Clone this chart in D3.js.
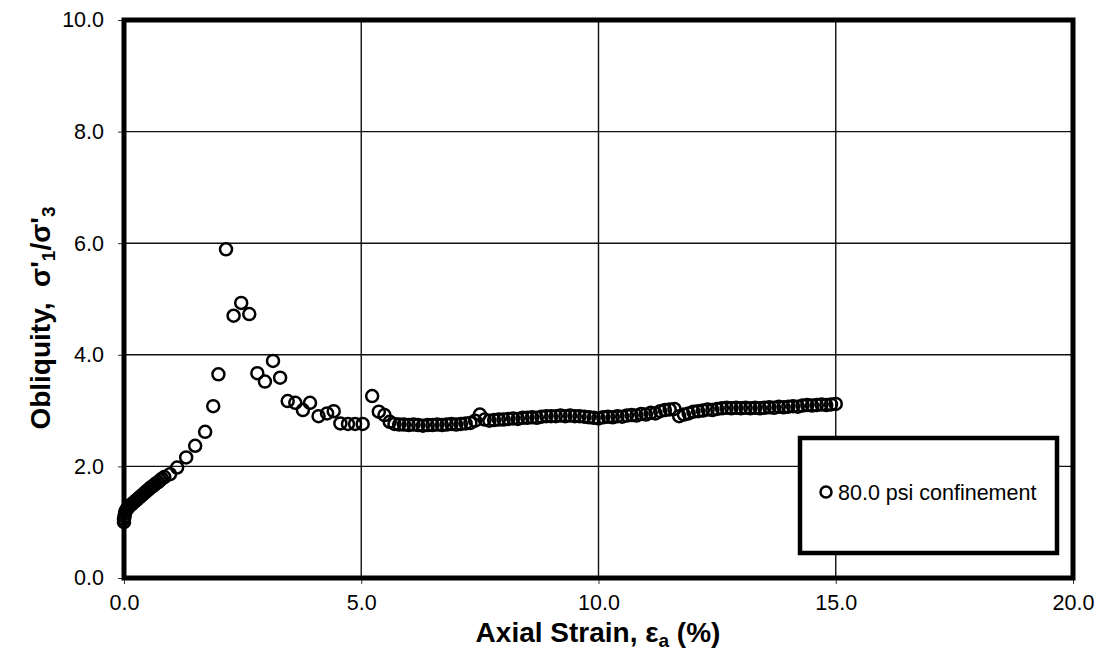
<!DOCTYPE html>
<html>
<head>
<meta charset="utf-8">
<script src="https://cdn.jsdelivr.net/npm/d3@7"></script>
<style>
body { margin: 0; background: #fff; }
svg { font-family: "Liberation Sans", Arial, sans-serif; }
</style>
</head>
<body>
<svg id="main"></svg>
<script>
// strain (%) and obliquity
var strain = [
	0.00, 0.00, 0.01, 0.02, 0.03, 0.05, 0.07, 0.10, 0.13, 0.16, 0.20, 0.24, 0.28, 0.32,
	0.36, 0.40, 0.44, 0.48, 0.52, 0.56, 0.60, 0.64, 0.68, 0.72, 0.76, 0.80, 0.85,
	0.97, 1.12, 1.31, 1.50, 1.71, 1.88, 1.99, 2.15, 2.31, 2.47, 2.64, 2.81, 2.97, 3.14,
	3.29, 3.45, 3.61, 3.77, 3.92, 4.10, 4.28, 4.42, 4.56, 4.72, 4.87, 5.03, 5.23, 5.37, 5.49,
	5.6, 5.7, 5.8, 5.9, 6.0, 6.1, 6.2, 6.3, 6.4, 6.5, 6.6, 6.7, 6.8, 6.9, 7.0, 7.1, 7.2, 7.3,
	7.4, 7.5, 7.6, 7.7, 7.8, 7.9, 8.0, 8.1, 8.2, 8.3, 8.4, 8.5, 8.6, 8.7, 8.8, 8.9, 9.0, 9.1,
	9.2, 9.3, 9.4, 9.5, 9.6, 9.7, 9.8, 9.9, 10.0, 10.1, 10.2, 10.3, 10.4, 10.5, 10.6, 10.7,
	10.8, 10.9, 11.0, 11.1, 11.2, 11.3, 11.4, 11.5, 11.6, 11.7, 11.8, 11.9, 12.0, 12.1, 12.2,
	12.3, 12.4, 12.5, 12.6, 12.7, 12.8, 12.9, 13.0, 13.1, 13.2, 13.3, 13.4, 13.5, 13.6, 13.7,
	13.8, 13.9, 14.0, 14.1, 14.2, 14.3, 14.4, 14.5, 14.6, 14.7, 14.8, 14.9, 15.0
];
var obliquity = [
	1.00, 1.05, 1.10, 1.15, 1.19, 1.22, 1.25, 1.27, 1.30, 1.32, 1.35, 1.38, 1.41, 1.44,
	1.47, 1.50, 1.53, 1.56, 1.59, 1.62, 1.64, 1.67, 1.70, 1.72, 1.75, 1.78, 1.81,
	1.86, 1.98, 2.16, 2.37, 2.62, 3.08, 3.65, 5.89, 4.70, 4.93, 4.73, 3.67, 3.52, 3.89,
	3.59, 3.17, 3.14, 3.01, 3.14, 2.90, 2.95, 2.99, 2.77, 2.76, 2.76, 2.76, 3.26, 2.98, 2.92,
	2.80, 2.76, 2.75, 2.75, 2.74, 2.75, 2.74, 2.73, 2.74, 2.74, 2.75, 2.74, 2.75, 2.76, 2.75, 2.76, 2.77, 2.78,
	2.82, 2.93, 2.84, 2.82, 2.83, 2.84, 2.84, 2.85, 2.86, 2.85, 2.87, 2.87, 2.88, 2.87, 2.89, 2.90, 2.90, 2.90,
	2.91, 2.90, 2.91, 2.90, 2.90, 2.89, 2.88, 2.87, 2.86, 2.88, 2.89, 2.88, 2.90, 2.89, 2.91, 2.92,
	2.91, 2.94, 2.93, 2.96, 2.95, 2.99, 3.01, 3.02, 3.03, 2.90, 2.93, 2.95, 2.98, 2.99, 3.00,
	3.02, 3.01, 3.03, 3.04, 3.05, 3.04, 3.05, 3.04, 3.05, 3.04, 3.05, 3.04, 3.05, 3.06, 3.05,
	3.07, 3.06, 3.07, 3.08, 3.07, 3.09, 3.10, 3.09, 3.10, 3.11, 3.10, 3.11, 3.12
];
var xTicks = [0, 5, 10, 15, 20];
var yTicks = [0, 2, 4, 6, 8, 10];
var seriesName = '80.0 psi confinement';

var width = 1098, height = 654;
var margin = {left: 124, top: 20, right: 25, bottom: 76};
var svg = d3.select('#main').attr('width', width).attr('height', height);

var x = d3.scaleLinear().domain([0, 20]).range([margin.left, width - margin.right]);
var y = d3.scaleLinear().domain([0, 10]).range([height - margin.bottom, margin.top]);

// grid
svg.append('g')
	.selectAll('line.h').data(yTicks.slice(1, -1)).join('line')
	.attr('x1', x(0)).attr('x2', x(20))
	.attr('y1', d => y(d)).attr('y2', d => y(d))
	.attr('stroke', '#111').attr('stroke-width', 1.4);
svg.append('g')
	.selectAll('line.v').data(xTicks.slice(1, -1)).join('line')
	.attr('y1', y(0)).attr('y2', y(10))
	.attr('x1', d => x(d)).attr('x2', d => x(d))
	.attr('stroke', '#111').attr('stroke-width', 1.4);

// axes
var xAxis = svg.append('g')
	.attr('transform', `translate(0,${y(0)})`)
	.call(d3.axisBottom(x).tickValues(xTicks).tickFormat(d3.format('.1f')).tickSize(6).tickPadding(11));
var yAxis = svg.append('g')
	.attr('transform', `translate(${x(0)},0)`)
	.call(d3.axisLeft(y).tickValues(yTicks).tickFormat(d3.format('.1f')).tickSize(6).tickPadding(14));
for (let ax of [xAxis, yAxis]) {
	ax.select('.domain').remove();
	ax.selectAll('.tick line').attr('stroke', '#333').attr('stroke-width', 1);
	ax.selectAll('.tick text')
		.attr('fill', '#000')
		.style('font-size', '21.5px')
		.style('font-family', '"Liberation Sans", Arial, sans-serif');
}

// frame
svg.append('rect')
	.attr('x', x(0)).attr('y', y(10))
	.attr('width', x(20) - x(0)).attr('height', y(0) - y(10))
	.attr('fill', 'none').attr('stroke', '#000').attr('stroke-width', 5);

// points
svg.append('g')
	.selectAll('circle').data(strain.map((s, i) => [s, obliquity[i]])).join('circle')
	.attr('cx', d => x(d[0])).attr('cy', d => y(d[1]))
	.attr('r', 6)
	.attr('fill', 'none').attr('stroke', '#000').attr('stroke-width', 2.5);

// legend
var lg = svg.append('g');
lg.append('rect')
	.attr('x', 800).attr('y', 438).attr('width', 257).attr('height', 115)
	.attr('fill', '#fff').attr('stroke', '#000').attr('stroke-width', 4.5);
lg.append('circle')
	.attr('cx', 826).attr('cy', 492).attr('r', 5.5)
	.attr('fill', 'none').attr('stroke', '#000').attr('stroke-width', 2.5);
lg.append('text')
	.attr('x', 838).attr('y', 500)
	.style('font-size', '21.5px')
	.text(seriesName);

// axis titles
var xt = svg.append('text')
	.attr('x', 598).attr('y', 642)
	.attr('text-anchor', 'middle')
	.style('font-size', '28px').style('font-weight', 'bold');
xt.append('tspan').text('Axial Strain, ε');
xt.append('tspan').attr('baseline-shift', '-25%').style('font-size', '19px').text('a');
xt.append('tspan').text('\u00a0(%)');

var yt = svg.append('text')
	.attr('transform', `translate(50,318) rotate(-90)`)
	.attr('text-anchor', 'middle')
	.style('font-size', '28px').style('font-weight', 'bold');
yt.append('tspan').text('Obliquity,\u00a0\u00a0σ\'');
yt.append('tspan').attr('baseline-shift', '-25%').style('font-size', '19px').text('1');
yt.append('tspan').text('/σ\'');
yt.append('tspan').attr('baseline-shift', '-25%').style('font-size', '19px').text('3');
</script>
</body>
</html>
